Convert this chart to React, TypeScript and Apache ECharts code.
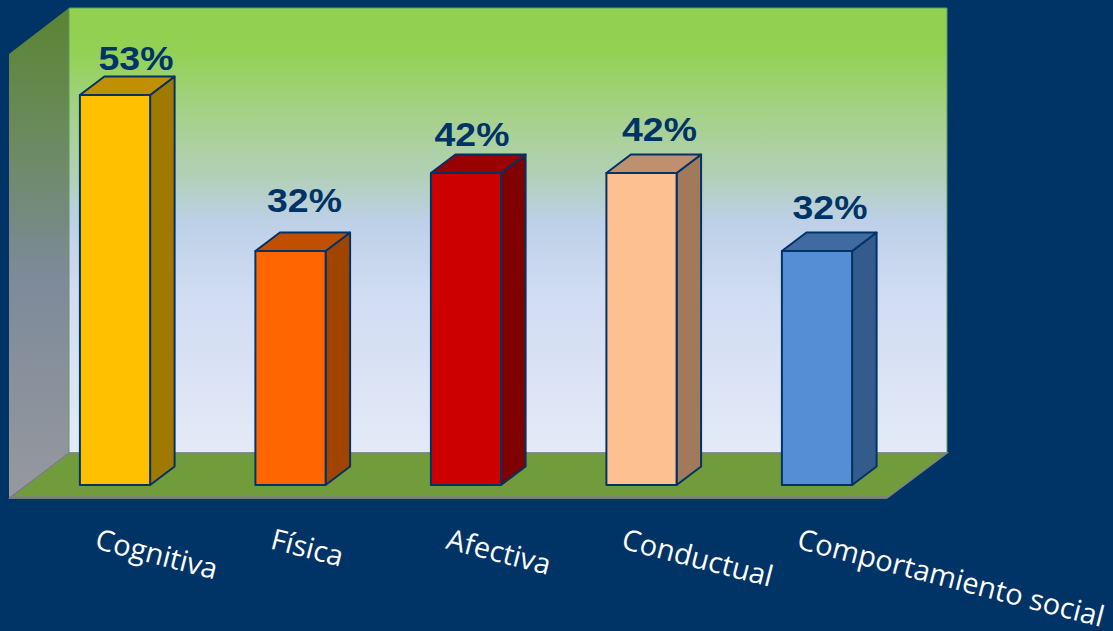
import React, { useEffect, useRef } from "react";
import * as echarts from "echarts";

const categories = ["Cognitiva", "Física", "Afectiva", "Conductual", "Comportamiento social"];
const barValues = [50, 30, 40, 40, 30];
const barLabels = ["53%", "32%", "42%", "42%", "32%"];
const labelOffsets = [[21, -36], [14, -50], [6, -38], [18, -43], [13, -43]];
const frontColors = ["#FFC000", "#FF6600", "#CC0000", "#FDC090", "#558ED5"];
const topColors = ["#C09000", "#C04F00", "#990000", "#BF9070", "#406BA0"];
const sideColors = ["#A07A00", "#A04400", "#800000", "#A07A5A", "#335C8C"];

const NAVY = "#003366";
const DEPTH_X = 24.5;
const DEPTH_Y = -18.5;

function renderBar(params: any, api: any) {
  const i = params.dataIndex;
  const base = api.coord([api.value(0), 0]);
  const top = api.coord([api.value(0), api.value(1)]);
  const w = api.size([1, 0])[0] * 0.4;
  const l = base[0] - w / 2;
  const r = base[0] + w / 2;
  const line = { stroke: NAVY, lineWidth: 2, lineJoin: "round" };
  return {
    type: "group",
    children: [
      {
        type: "polygon",
        shape: { points: [[r, top[1]], [r + DEPTH_X, top[1] + DEPTH_Y], [r + DEPTH_X, base[1] + DEPTH_Y], [r, base[1]]] },
        style: { fill: sideColors[i], ...line },
      },
      {
        type: "polygon",
        shape: { points: [[l, top[1]], [l + DEPTH_X, top[1] + DEPTH_Y], [r + DEPTH_X, top[1] + DEPTH_Y], [r, top[1]]] },
        style: { fill: topColors[i], ...line },
      },
      {
        type: "rect",
        shape: { x: l, y: top[1], width: w, height: base[1] - top[1] },
        style: { fill: frontColors[i], ...line },
      },
      {
        type: "text",
        x: base[0] + labelOffsets[i][0],
        y: top[1] + labelOffsets[i][1],
        scaleX: 1.1,
        style: {
          text: barLabels[i],
          fill: NAVY,
          font: 'bold 34px "Liberation Sans"',
          textAlign: "center",
          textVerticalAlign: "middle",
        },
      },
    ],
  };
}

export default function App() {
  const ref = useRef<HTMLDivElement>(null);
  useEffect(() => {
    document.body.style.margin = "0";
    const chart = echarts.init(ref.current!, undefined, { renderer: "svg" });
    const wallGrad = new echarts.graphic.LinearGradient(0, 0, 0, 1, [
      { offset: 0, color: "#92D050" },
      { offset: 0.1, color: "#93D155" },
      { offset: 0.26, color: "#A8D190" },
      { offset: 0.38, color: "#B2D0B8" },
      { offset: 0.48, color: "#BDD0E8" },
      { offset: 0.64, color: "#D0DCF2" },
      { offset: 1, color: "#E4EAF7" },
    ]);
    const sideGrad = new echarts.graphic.LinearGradient(0, 0, 0, 1, [
      { offset: 0, color: "#5A8432" },
      { offset: 0.25, color: "#6A8A5C" },
      { offset: 0.55, color: "#7D8A9A" },
      { offset: 1, color: "#96989E" },
    ]);
    chart.setOption({
      animation: false,
      backgroundColor: NAVY,
      grid: [
        { left: 27.25, width: 877.5, top: 17, height: 468 },
        { left: 9, width: 877.5, top: 17, height: 481.5 },
      ],
      xAxis: [
        { type: "category", gridIndex: 0, data: categories, show: false },
        {
          type: "category",
          gridIndex: 1,
          data: categories,
          axisLine: { show: true, lineStyle: { color: "#808080", width: 2.5, cap: "butt" } },
          axisTick: { show: false },
          axisLabel: {
            interval: 0,
            rotate: -14.5,
            margin: 40,
            color: "#FFFFFF",
            fontFamily: "Open Sans",
            fontSize: 29,
          },
        },
      ],
      yAxis: [
        { type: "value", gridIndex: 0, min: 0, max: 60, show: false },
        { type: "value", gridIndex: 1, min: 0, max: 60, show: false },
      ],
      graphic: {
        elements: [
          {
            type: "polygon",
            z: -10,
            shape: { points: [[9, 54], [69, 8], [69, 453], [9, 498]] },
            style: { fill: sideGrad },
          },
          {
            type: "rect",
            z: -10,
            shape: { x: 69, y: 8, width: 878, height: 445 },
            style: { fill: wallGrad, stroke: "#5F9A60", lineWidth: 1 },
          },
          {
            type: "polygon",
            z: -9,
            shape: { points: [[10, 498], [69, 453], [947, 453], [887, 498]] },
            style: { fill: "#719C3C", stroke: "#808080", lineWidth: 1.5 },
          },
        ],
      },
      series: [
        {
          type: "custom",
          xAxisIndex: 0,
          yAxisIndex: 0,
          z: 5,
          clip: false,
          renderItem: renderBar,
          data: barValues.map((v, i) => [i, v]),
        },
      ],
    });
    return () => chart.dispose();
  }, []);
  return <div ref={ref} style={{ width: 1113, height: 631 }} />;
}
